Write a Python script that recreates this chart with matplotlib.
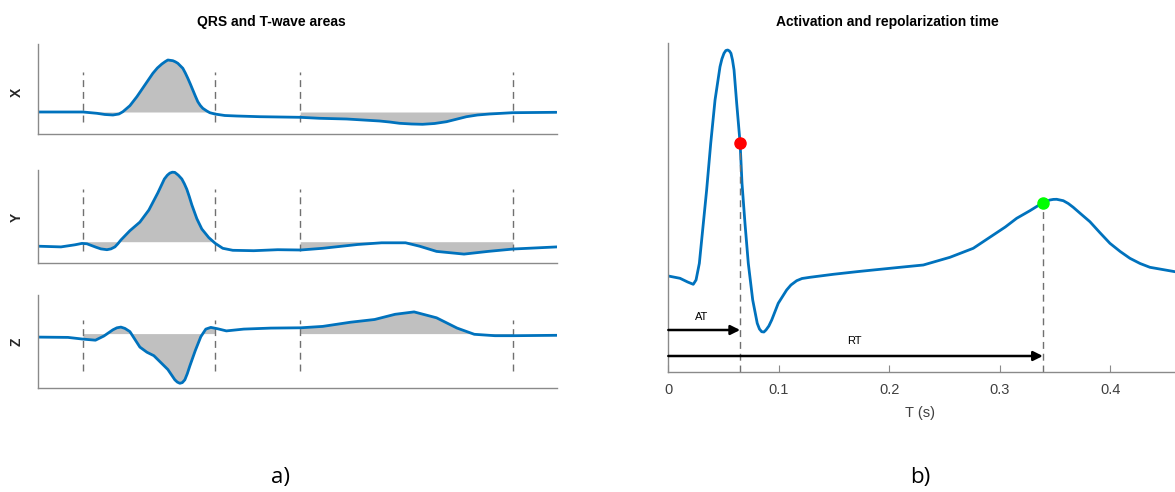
import numpy as np
import matplotlib
matplotlib.use("Agg")
import matplotlib.pyplot as plt

plt.rcParams['font.family'] = ['Liberation Sans', 'DejaVu Sans']

# ---------------- data: left panel (time in s, amplitude relative to baseline) -------------
qrs_on, qrs_off, t_on, t_off = 0.045, 0.1775, 0.2625, 0.4755

x_t = [0.000, 0.023, 0.045, 0.059, 0.067, 0.075, 0.081, 0.085, 0.092, 0.099, 0.107, 0.115,
       0.1195, 0.124, 0.1275, 0.130, 0.135, 0.1375, 0.140, 0.145, 0.1475, 0.150, 0.1525, 0.155,
       0.1575, 0.160, 0.1625, 0.165, 0.169, 0.172, 0.177, 0.187,
       0.199, 0.222, 0.262, 0.282, 0.309, 0.342, 0.352, 0.362, 0.374, 0.385, 0.397, 0.409,
       0.419, 0.429, 0.440, 0.452, 0.475, 0.519]
x_v = [0.000, 0.000, 0.000, -0.013, -0.025, -0.030, -0.020, 0.003, 0.063, 0.153, 0.270, 0.387,
       0.440, 0.480, 0.505, 0.520, 0.513, 0.502, 0.487, 0.437, 0.390, 0.337, 0.280, 0.220,
       0.160, 0.103, 0.065, 0.037, 0.010, -0.007, -0.020, -0.035,
       -0.040, -0.047, -0.053, -0.063, -0.070, -0.090, -0.100, -0.113, -0.120, -0.123, -0.115, -0.097,
       -0.072, -0.047, -0.030, -0.020, -0.007, -0.003]

y_t = [0.000, 0.023, 0.037, 0.044, 0.049, 0.058, 0.063, 0.069, 0.073, 0.077, 0.080, 0.083, 0.092,
       0.102, 0.111, 0.120, 0.1265, 0.1295, 0.132, 0.1345, 0.137, 0.1405, 0.144, 0.1465, 0.149,
       0.1515, 0.154, 0.159, 0.164, 0.171, 0.1775, 0.185,
       0.195, 0.216, 0.240, 0.263, 0.285, 0.320, 0.344, 0.368, 0.382, 0.399, 0.4265, 0.4506, 0.476, 0.5196]
y_v = [-0.045, -0.052, -0.031, -0.017, -0.021, -0.055, -0.072, -0.080, -0.072, -0.052, -0.020, 0.017, 0.110,
       0.196, 0.317, 0.489, 0.627, 0.665, 0.686, 0.695, 0.693, 0.665, 0.627, 0.580, 0.524,
       0.450, 0.369, 0.231, 0.127, 0.041, -0.017, -0.066,
       -0.086, -0.090, -0.080, -0.083, -0.066, -0.028, -0.011, -0.011, -0.045, -0.097, -0.124, -0.097, -0.073, -0.052]

z_t = [0.000, 0.030, 0.045, 0.0575, 0.066, 0.075, 0.079, 0.083, 0.087, 0.092, 0.102, 0.109, 0.116, 0.123,
       0.130, 0.137, 0.1395, 0.142, 0.1445, 0.147, 0.1495, 0.152, 0.1575, 0.163, 0.168, 0.173, 0.180,
       0.1886, 0.206, 0.233, 0.263, 0.285, 0.313, 0.337, 0.3575, 0.3765, 0.399, 0.4196, 0.4368,
       0.4575, 0.476, 0.5196]
z_v = [-0.035, -0.038, -0.055, -0.066, -0.024, 0.038, 0.058, 0.065, 0.052, 0.020, -0.135, -0.186, -0.221, -0.290,
       -0.359, -0.462, -0.485, -0.497, -0.490, -0.462, -0.400, -0.324, -0.169, -0.031, 0.045, 0.062, 0.048,
       0.027, 0.045, 0.055, 0.058, 0.072, 0.114, 0.141, 0.193, 0.217, 0.158, 0.055, -0.007,
       -0.021, -0.021, -0.017]

leads = ["X", "Y", "Z"]
lead_t = [x_t, y_t, z_t]
lead_v = [x_v, y_v, z_v]

# ---------------- data: right panel ----------------
ecg_t = [0.0000, 0.0106, 0.0175, 0.0226, 0.0251, 0.0281, 0.0311, 0.0347, 0.0384, 0.0423, 0.0468,
         0.0485, 0.0504, 0.0521, 0.0538, 0.0553, 0.0567, 0.0581, 0.0595, 0.0619, 0.0650, 0.0667,
         0.0694, 0.0724, 0.0764, 0.0805, 0.0825, 0.0845, 0.0865, 0.0884, 0.0910, 0.0936, 0.0995,
         0.1071, 0.1110, 0.1162, 0.1210, 0.1282, 0.1493, 0.1705, 0.1855, 0.2097, 0.2308,
         0.2549, 0.2650, 0.2760, 0.2941, 0.3050, 0.3153, 0.3273, 0.3390, 0.3454, 0.3485, 0.3515,
         0.3575, 0.3620, 0.3665, 0.3740, 0.3816, 0.3905, 0.3997, 0.4090, 0.4178, 0.4270, 0.4359, 0.4586]
ecg_v = [0.000, -0.023, -0.060, -0.083, -0.040, 0.127, 0.460, 0.860, 1.327, 1.760, 2.093,
         2.170, 2.227, 2.255, 2.260, 2.250, 2.227, 2.160, 2.060, 1.727, 1.327, 0.927,
         0.527, 0.127, -0.240, -0.473, -0.530, -0.557, -0.560, -0.540, -0.500, -0.440, -0.273,
         -0.140, -0.090, -0.047, -0.025, -0.013, 0.017, 0.043, 0.060, 0.087, 0.110,
         0.187, 0.230, 0.277, 0.410, 0.490, 0.577, 0.653, 0.733, 0.760, 0.766, 0.767,
         0.753, 0.725, 0.687, 0.615, 0.543, 0.435, 0.327, 0.245, 0.177, 0.125, 0.087, 0.043]
AT = 0.065
RT = 0.339
xticks = [0, 0.1, 0.2, 0.3, 0.4]
xtick_labels = ["0", "0.1", "0.2", "0.3", "0.4"]

# ---------------- figure ----------------
W, H = 1175, 492
fig = plt.figure(figsize=(W / 100, H / 100), dpi=100)

def px_axes(l, t, r, b):
    return fig.add_axes([l / W, 1 - b / H, (r - l) / W, (b - t) / H])

blue = "#0072BD"
spine_c = "#8a8a8a"
fill_c = "#c0c0c0"
dash_c = "#707070"

# left panel axes (pixel boxes)
boxes = [(38, 44, 557, 134), (38, 170, 557, 262.5), (38, 295.3, 557, 388.4)]
ylims = [(-0.22, 0.68), (-0.208, 0.717), (-0.548, 0.383)]
dash_spans = [(0.135, 0.685), (0.128, 0.79), (0.19, 0.74)]
label_y = [92, 217, 342]

for i in range(3):
    ax = px_axes(*boxes[i])
    t = np.array(lead_t[i]); v = np.array(lead_v[i])
    mq = (t >= qrs_on) & (t <= qrs_off)
    mt = (t >= t_on) & (t <= t_off)
    tq = np.concatenate([[qrs_on], t[mq], [qrs_off]])
    vq = np.concatenate([[np.interp(qrs_on, t, v)], v[mq], [np.interp(qrs_off, t, v)]])
    tt = np.concatenate([[t_on], t[mt], [t_off]])
    vt = np.concatenate([[np.interp(t_on, t, v)], v[mt], [np.interp(t_off, t, v)]])
    ax.fill_between(tq, vq, 0, color=fill_c, lw=0)
    ax.fill_between(tt, vt, 0, color=fill_c, lw=0)
    for xv in (qrs_on, qrs_off, t_on, t_off):
        ax.axvline(xv, ymin=dash_spans[i][0], ymax=dash_spans[i][1], color=dash_c,
                   ls=(0, (5, 3.5)), lw=1.0)
    ax.plot(t, v, color=blue, lw=2.0, solid_joinstyle='round', solid_capstyle='round')
    ax.set_xlim(0, 0.5196)
    ax.set_ylim(*ylims[i])
    for s in ("top", "right"):
        ax.spines[s].set_visible(False)
    for s in ("left", "bottom"):
        ax.spines[s].set_color(spine_c)
        ax.spines[s].set_linewidth(1.0)
    ax.set_xticks([]); ax.set_yticks([])
    fig.text(17 / W, 1 - label_y[i] / H, leads[i], rotation=90, ha="center", va="center",
             fontsize=10, fontweight="bold", color="#262626")

fig.text(271 / W, 1 - 22 / H, "QRS and T-wave areas", ha="center", va="center",
         fontsize=10, fontweight="bold", color="black")

# right panel
axr = px_axes(668.3, 43, 1175, 372)
axr.plot(ecg_t, ecg_v, color=blue, lw=2.0, solid_joinstyle='round')
axr.set_xlim(0, 0.4586)
axr.set_ylim(-0.96, 2.33)
y_at = np.interp(AT, ecg_t, ecg_v)
y_rt = np.interp(RT, ecg_t, ecg_v)
axr.plot([AT, AT], [-0.96, y_at], color=dash_c, ls=(0, (5, 3.5)), lw=1.0, clip_on=False)
axr.plot([RT, RT], [-0.96, y_rt], color=dash_c, ls=(0, (5, 3.5)), lw=1.0, clip_on=False)
axr.plot([AT], [y_at], 'o', color="#ff0000", ms=8, zorder=5)
axr.plot([RT], [y_rt], 'o', color="#00ff00", ms=8, zorder=5)
axr.annotate("", xy=(AT, -0.54), xytext=(0, -0.54),
             arrowprops=dict(arrowstyle="-|>", color="black", lw=1.8, mutation_scale=14,
                             shrinkA=0, shrinkB=0))
axr.annotate("", xy=(RT, -0.80), xytext=(0, -0.80),
             arrowprops=dict(arrowstyle="-|>", color="black", lw=1.8, mutation_scale=14,
                             shrinkA=0, shrinkB=0))
axr.text(0.030, -0.41, "AT", ha="center", va="center", fontsize=8, color="black")
axr.text(0.168, -0.65, "RT", ha="center", va="center", fontsize=8, color="black")
for s in ("top", "right"):
    axr.spines[s].set_visible(False)
for s in ("left", "bottom"):
    axr.spines[s].set_color(spine_c)
    axr.spines[s].set_linewidth(1.0)
axr.set_yticks([])
axr.set_xticks(xticks)
axr.set_xticklabels(xtick_labels)
axr.tick_params(axis="x", direction="in", length=5, color=spine_c, labelsize=10.5,
                labelcolor="#404040", pad=8)
fig.text(920 / W, 1 - 413 / H, "T (s)", ha="center", va="center", fontsize=10.5, color="#404040")
fig.text(887 / W, 1 - 22 / H, "Activation and repolarization time", ha="center", va="center",
         fontsize=10, fontweight="bold", color="black")

fig.text(280 / W, 1 - 478 / H, "a)", ha="center", va="center", fontsize=16,
         family=["Open Sans", "DejaVu Sans"], color="black")
fig.text(920 / W, 1 - 478 / H, "b)", ha="center", va="center", fontsize=16,
         family=["Open Sans", "DejaVu Sans"], color="black")

fig.savefig("out.png", dpi=100)
